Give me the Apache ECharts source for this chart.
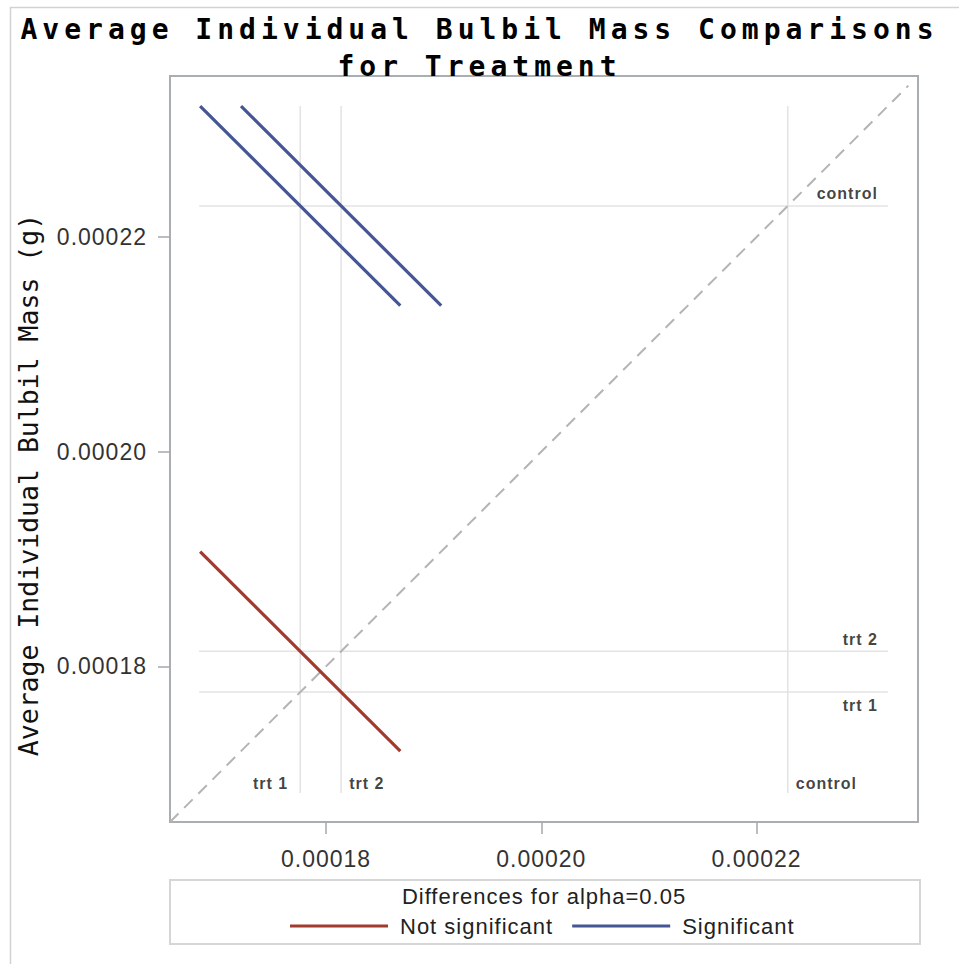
<!DOCTYPE html>
<html>
<head>
<meta charset="utf-8">
<script src="https://cdn.jsdelivr.net/npm/echarts@6/dist/echarts.min.js"></script>
<style>
  html, body { margin: 0; padding: 0; background: #fff; }
  #chart { width: 959px; height: 964px; letter-spacing: 1px; }
  #chart text[style*="Mono"] { letter-spacing: 0; }
  #chart text[style*="Mono"][style*="bold"] { letter-spacing: 5px; }
</style>
</head>
<body>
<div id="chart"></div>
<script>
// Treatment levels and their least-squares means (g)
const levels = ['trt 1', 'trt 2', 'control'];
const levelMeans = [0.0001776, 0.0001814, 0.0002229];

// Pairwise comparisons: [level on x, level on y]
const pairs = [[0, 1], [0, 2], [1, 2]];
const pairHalfWidths = [0.0000093, 0.0000093, 0.0000093];
const pairSignificant = [false, true, true];

// Axis tick values
const tickValues = [0.00018, 0.00020, 0.00022];

// Axis extent, diagonal reach and reference-line extent (data units)
const axisMin = 0.0001655;
const axisMax = 0.000235;
const diagonalEnd = 0.0002341;
const refLineStart = 0.0001682;
const refLineEnd = 0.0002322;

const RED = '#A23A2E';
const BLUE = '#445694';
const SANS = 'Liberation Sans';
const MONO = 'DejaVu Sans Mono';

const series = [];

// Thin reference lines at each mean, vertical and horizontal
levelMeans.forEach(function (m) {
  const refStyle = { color: '#E3E3E3', width: 1.5 };
  series.push({
    type: 'line', silent: true, showSymbol: false, z: 1,
    lineStyle: refStyle,
    data: [[m, refLineStart], [m, refLineEnd]]
  });
  series.push({
    type: 'line', silent: true, showSymbol: false, z: 1,
    lineStyle: refStyle,
    data: [[refLineStart, m], [refLineEnd, m]]
  });
});

// Equality diagonal
series.push({
  type: 'line', silent: true, showSymbol: false, z: 2,
  lineStyle: { color: '#B4B4B4', width: 2, type: [12, 8] },
  data: [[axisMin, axisMin], [diagonalEnd, diagonalEnd]]
});

// One slope -1 segment per comparison, centred at (mean_i, mean_j)
pairs.forEach(function (p, k) {
  const cx = levelMeans[p[0]];
  const cy = levelMeans[p[1]];
  const h = pairHalfWidths[k];
  const sig = pairSignificant[k];
  series.push({
    name: sig ? 'Significant' : 'Not significant',
    type: 'line', showSymbol: false, z: 5,
    color: sig ? BLUE : RED,
    lineStyle: { color: sig ? BLUE : RED, width: 3.2 },
    data: [[cx - h, cy + h], [cx + h, cy - h]]
  });
});

// Level names beside the reference lines
const sideLabel = { fontFamily: SANS, fontSize: 16, fontWeight: 'bold', color: '#111' };
const rightOffsets = [13, -12, -12];   // below / above the horizontal line
const bottomAlign = ['right', 'left', 'left'];
const labelData = [];
levels.forEach(function (name, i) {
  labelData.push({
    value: [refLineEnd, levelMeans[i]],
    label: Object.assign({
      show: true, formatter: name, position: 'inside',
      align: 'right', verticalAlign: 'middle',
      offset: [-10, rightOffsets[i]]
    }, sideLabel)
  });
  labelData.push({
    value: [levelMeans[i], refLineStart],
    label: Object.assign({
      show: true, formatter: name, position: 'inside',
      align: bottomAlign[i], verticalAlign: 'middle',
      offset: [bottomAlign[i] === 'right' ? -12 : 8, -10]
    }, sideLabel)
  });
});
series.push({
  type: 'scatter', silent: true, symbolSize: 0, z: 6,
  data: labelData
});

const axisCommon = {
  type: 'value',
  min: axisMin,
  max: axisMax,
  splitLine: { show: false },
  axisLine: { show: false },
  axisTick: {
    show: true, length: 12, customValues: tickValues,
    lineStyle: { color: '#A4A8AC', width: 1.5 }
  },
  axisLabel: {
    customValues: tickValues,
    formatter: function (v) { return v.toFixed(5); },
    fontFamily: SANS, fontSize: 23, color: '#333'
  }
};

const chart = echarts.init(document.getElementById('chart'), null, { renderer: 'svg' });
chart.setOption({
  animation: false,
  backgroundColor: '#fff',
  title: {
    text: 'Average Individual Bulbil Mass Comparisons\nfor Treatment',
    left: 'center', top: 6,
    textStyle: {
      fontFamily: MONO, fontWeight: 'bold', fontSize: 28,
      lineHeight: 37, color: '#000'
    }
  },
  grid: {
    left: 170, top: 76, right: 41, bottom: 142,
    show: true, borderColor: '#A9AEB3', borderWidth: 2,
    backgroundColor: '#fff'
  },
  xAxis: Object.assign({}, axisCommon, {
    axisLabel: Object.assign({}, axisCommon.axisLabel, { margin: 25 })
  }),
  yAxis: Object.assign({}, axisCommon, {
    axisLabel: Object.assign({}, axisCommon.axisLabel, { margin: 23 })
  }),
  legend: {
    data: ['Not significant', 'Significant'],
    left: 290, top: 915, padding: 0,
    icon: 'rect', itemWidth: 98, itemHeight: 3, itemGap: 34,
    selectedMode: false,
    textStyle: { fontFamily: SANS, fontSize: 22, color: '#222', padding: [0, 0, 0, 7] }
  },
  graphic: [
    // outer frame edges
    { type: 'line', silent: true, shape: { x1: 10, y1: 7.5, x2: 959, y2: 7.5 },
      style: { stroke: '#D2D2D2', lineWidth: 1.5 } },
    { type: 'line', silent: true, shape: { x1: 10.5, y1: 7, x2: 10.5, y2: 964 },
      style: { stroke: '#D2D2D2', lineWidth: 1.5 } },
    // legend box and heading
    { type: 'rect', silent: true, z: -1,
      shape: { x: 170, y: 880, width: 750, height: 64 },
      style: { fill: '#fff', stroke: '#D6D6D6', lineWidth: 2 } },
    { type: 'text', silent: true, x: 544, y: 896.5,
      style: { text: 'Differences for alpha=0.05', fontFamily: SANS, fontSize: 22,
               fill: '#222', align: 'center', verticalAlign: 'middle' } },
    // y-axis title
    { type: 'text', silent: true, x: 28, y: 485, rotation: Math.PI / 2,
      style: { text: 'Average Individual Bulbil Mass (g)', fontFamily: MONO, fontSize: 26.5,
               fill: '#111', align: 'center', verticalAlign: 'middle' } }
  ],
  series: series
});
</script>
</body>
</html>
